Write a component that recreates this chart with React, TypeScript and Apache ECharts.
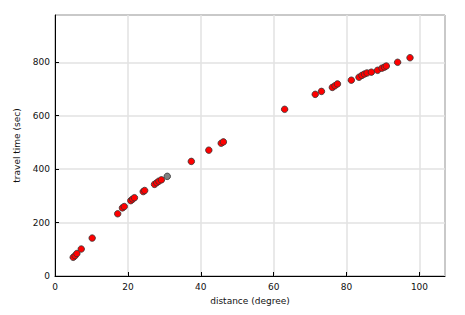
import React, { useEffect, useRef } from "react";
import * as echarts from "echarts";

const distances = [
  5.0, 5.5, 6.0, 7.2, 10.2,
  17.2, 18.5, 19.0, 20.8, 21.3, 21.8, 24.2, 24.6, 27.3, 27.9, 28.5, 29.2,
  37.4, 42.2, 45.6, 46.2,
  63.0, 71.4, 73.1, 76.1, 76.8, 77.5,
  81.3, 83.4, 84.2, 84.9, 85.6, 86.8, 88.5, 89.7, 90.4, 90.9, 94.0, 97.4,
];
const travelTimes = [
  70, 76, 84, 101, 142,
  233, 255, 260, 282, 288, 293, 316, 320, 343, 349, 355, 360,
  429, 471, 497, 502,
  624, 680, 691, 706, 712, 719,
  733, 744, 751, 756, 760, 763, 770, 778, 782, 786, 800, 817,
];
const highlighted = [[30.8, 373]];

const xTicks = [0, 20, 40, 60, 80, 100];
const yTicks = [0, 200, 400, 600, 800];

export default function App() {
  const ref = useRef<HTMLDivElement>(null);
  useEffect(() => {
    if (!ref.current) return;
    const chart = echarts.init(ref.current, null, { renderer: "svg" });
    const font = "DejaVu Sans";
    chart.setOption({
      animation: false,
      grid: {
        left: 55,
        right: 20,
        top: 15,
        bottom: 39,
        show: true,
        borderColor: "#000",
        borderWidth: 1,
        backgroundColor: "transparent",
      },
      xAxis: {
        type: "value",
        min: 0,
        max: 107,
        interval: 20,
        name: "distance (degree)",
        nameLocation: "middle",
        nameGap: 20,
        nameTextStyle: { fontFamily: font, fontSize: 9, color: "#111" },
        axisLine: { show: true, lineStyle: { color: "#000", width: 1 } },
        axisTick: { show: true, inside: true, length: 4, lineStyle: { color: "#000" } },
        axisLabel: {
          fontFamily: font,
          fontSize: 9,
          color: "#111",
          margin: 6,
          showMaxLabel: false,
          formatter: (v: number) => (xTicks.includes(v) ? String(v) : ""),
        },
        splitLine: { show: true, lineStyle: { color: "#e2e2e2", width: 1.5 } },
      },
      yAxis: {
        type: "value",
        min: 0,
        max: 977,
        interval: 200,
        name: "travel time (sec)",
        nameLocation: "middle",
        nameGap: 28,
        nameTextStyle: { fontFamily: font, fontSize: 9, color: "#111" },
        axisLine: { show: true, lineStyle: { color: "#000", width: 1 } },
        axisTick: { show: true, inside: true, length: 4, lineStyle: { color: "#000" } },
        axisLabel: {
          fontFamily: font,
          fontSize: 9,
          color: "#111",
          margin: 5,
          showMaxLabel: false,
          formatter: (v: number) => (yTicks.includes(v) ? String(v) : ""),
        },
        splitLine: { show: true, lineStyle: { color: "#e2e2e2", width: 1.5 } },
      },
      series: [
        {
          type: "scatter",
          symbol: "circle",
          symbolSize: 6.5,
          data: distances.map((d, i) => [d, travelTimes[i]]),
          itemStyle: { color: "#ff0000", borderColor: "#333", borderWidth: 0.8, opacity: 1 },
        },
        {
          type: "scatter",
          symbol: "circle",
          symbolSize: 6.5,
          data: highlighted,
          itemStyle: { color: "#808080", borderColor: "#333", borderWidth: 0.8, opacity: 1 },
        },
      ],
    });
    return () => chart.dispose();
  }, []);
  return (
    <div
      ref={ref}
      style={{ position: "absolute", left: 0, top: 0, width: 465, height: 315 }}
    />
  );
}
